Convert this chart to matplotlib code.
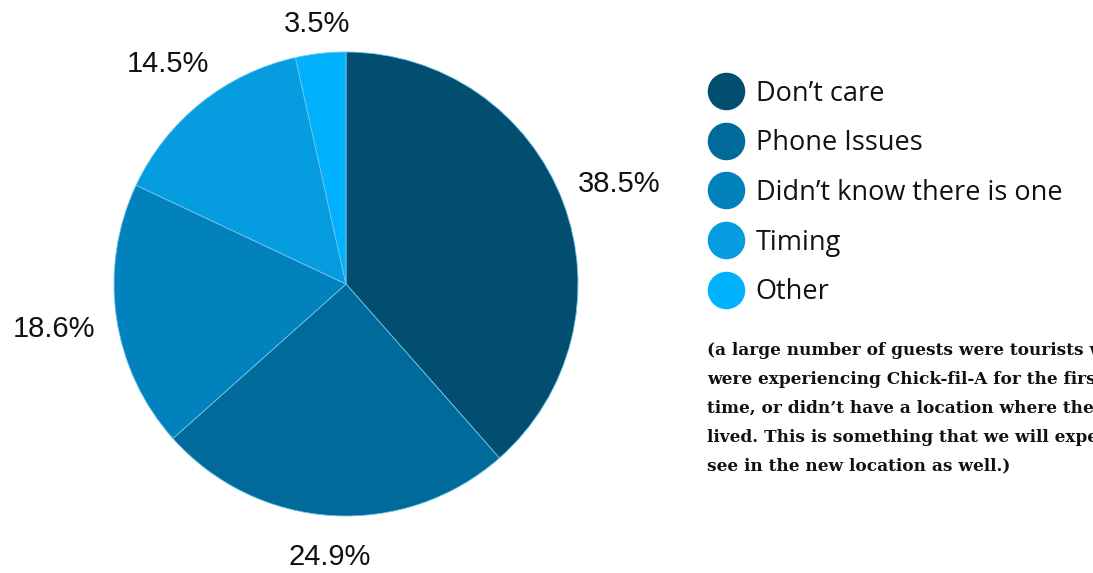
import numpy as np
import matplotlib
matplotlib.use("Agg")
import matplotlib.pyplot as plt
from matplotlib.lines import Line2D

# reasons why guests didn't use the app
categories = ["Don\u2019t care", "Phone Issues", "Didn\u2019t know there is one", "Timing", "Other"]
shares = [38.5, 24.9, 18.6, 14.5, 3.5]
colors = ["#024e70", "#006a9a", "#0282bd", "#069de0", "#00b2fe"]
label_dist = [1.26, 1.165, 1.27, 1.23, 1.14]

note_lines = [
    "(a large number of guests were tourists who",
    "were experiencing Chick-fil-A for the first",
    "time, or didn\u2019t have a location where they",
    "lived. This is something that we will expect to",
    "see in the new location as well.)",
]

fig = plt.figure(figsize=(10.93, 5.73), dpi=100)
fig.patch.set_facecolor("white")

ax = fig.add_axes([114 / 1093, 57 / 573, 464 / 1093, 464 / 573])
wedges, _ = ax.pie(shares, colors=colors, startangle=90, counterclock=False,
                   radius=1.0, wedgeprops=dict(edgecolor="#6fc3ea", linewidth=0.6))
ax.set_xlim(-1, 1)
ax.set_ylim(-1, 1)
ax.set_aspect("equal")

# percentage labels at each wedge's mid angle
for w, val, d in zip(wedges, shares, label_dist):
    ang = np.deg2rad((w.theta1 + w.theta2) / 2)
    ax.text(d * np.cos(ang), d * np.sin(ang), f"{val}%", ha="center", va="center_baseline",
            fontsize=21, family="Liberation Sans", color="#111111", clip_on=False)

handles = [Line2D([], [], marker="o", linestyle="none", markersize=26,
                  markerfacecolor=c, markeredgecolor=c) for c in colors]
leg = fig.legend(handles, categories, loc="upper left", bbox_to_anchor=(696 / 1093, 1 - 66 / 573),
                 frameon=False, prop={"family": "Open Sans", "size": 19.5},
                 handlelength=1.2, handletextpad=0.5, labelspacing=0.8, borderpad=0)
for t in leg.get_texts():
    t.set_color("#111111")

fig.text(707 / 1093, 1 - 342 / 573, "\n".join(note_lines), ha="left", va="top",
         fontsize=12.2, family="DejaVu Serif", fontweight="bold", color="#111111",
         linespacing=1.92)

fig.savefig("out.png", dpi=100, facecolor="white")
